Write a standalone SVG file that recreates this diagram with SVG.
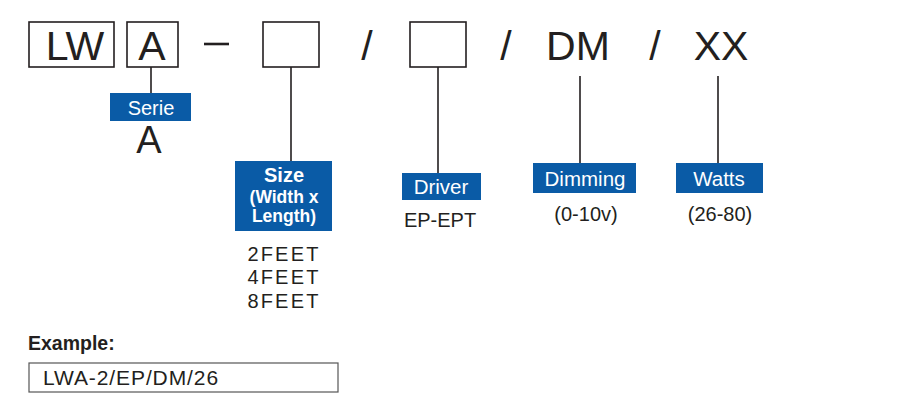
<svg xmlns="http://www.w3.org/2000/svg" width="917" height="415" viewBox="0 0 917 415">
<style>
.box{fill:#fff;stroke:#231f20;stroke-width:1.6}
.big{font-family:"Liberation Sans",Arial,sans-serif;font-size:41px;fill:#231f20}
.lbl{fill:#0a5ba6}
.wt{font-family:"Liberation Sans",Arial,sans-serif;font-size:20.5px;fill:#fff}
.wb{font-family:"Liberation Sans",Arial,sans-serif;font-weight:bold;fill:#fff}
.val{font-family:"Liberation Sans",Arial,sans-serif;font-size:20px;fill:#231f20}
.ln{stroke:#231f20;stroke-width:1.6;fill:none}
</style>
<rect width="917" height="415" fill="#fff"/>
<g id="code">
<rect class="box" x="29" y="22" width="85" height="45"/>
<text class="big" x="75" y="60" text-anchor="middle">LW</text>
<rect class="box" x="127" y="22" width="51" height="45"/>
<text class="big" x="152" y="60" text-anchor="middle">A</text>
<line x1="204" y1="44" x2="229" y2="44" stroke="#231f20" stroke-width="2.6"/>
<rect class="box" x="263" y="22" width="56" height="45"/>
<text class="big" x="367" y="60" text-anchor="middle">/</text>
<rect class="box" x="410" y="22" width="56" height="45"/>
<text class="big" x="506" y="60" text-anchor="middle">/</text>
<text class="big" x="578" y="60" text-anchor="middle">DM</text>
<text class="big" x="655" y="60" text-anchor="middle">/</text>
<text class="big" x="721" y="60" text-anchor="middle">XX</text>
</g>
<g id="connectors">
<line class="ln" x1="151" y1="67" x2="151" y2="93"/>
<line class="ln" x1="291" y1="67" x2="291" y2="161"/>
<line class="ln" x1="438" y1="67" x2="438" y2="173"/>
<line class="ln" x1="580" y1="76" x2="580" y2="163"/>
<line class="ln" x1="718" y1="76" x2="718" y2="163"/>
</g>
<g id="serie">
<rect class="lbl" x="110" y="93" width="81" height="28"/>
<text class="wt" x="151" y="115" text-anchor="middle" style="font-size:20px">Serie</text>
<text class="big" x="149" y="153" text-anchor="middle" style="font-size:38px">A</text>
</g>
<g id="size">
<rect class="lbl" x="235" y="161" width="97" height="70"/>
<text class="wb" x="284" y="182" text-anchor="middle" font-size="20">Size</text>
<text class="wb" x="284" y="203" text-anchor="middle" font-size="17.5">(Width x</text>
<text class="wb" x="284" y="222" text-anchor="middle" font-size="17.5">Length)</text>
<text class="val" x="284" y="261" text-anchor="middle" letter-spacing="2.2">2FEET</text>
<text class="val" x="284" y="284" text-anchor="middle" letter-spacing="2.2">4FEET</text>
<text class="val" x="284" y="308" text-anchor="middle" letter-spacing="2.2">8FEET</text>
</g>
<g id="driver">
<rect class="lbl" x="402" y="173" width="79" height="27"/>
<text class="wt" x="441" y="194" text-anchor="middle">Driver</text>
<text class="val" x="440" y="227" text-anchor="middle">EP-EPT</text>
</g>
<g id="dimming">
<rect class="lbl" x="533" y="163" width="103" height="30"/>
<text class="wt" x="585" y="186" text-anchor="middle">Dimming</text>
<text class="val" x="586" y="221" text-anchor="middle">(0-10v)</text>
</g>
<g id="watts">
<rect class="lbl" x="676" y="163" width="87" height="30"/>
<text class="wt" x="719" y="186" text-anchor="middle">Watts</text>
<text class="val" x="720" y="221" text-anchor="middle">(26-80)</text>
</g>
<g id="example">
<text x="28" y="350" font-family="'Liberation Sans',Arial,sans-serif" font-weight="bold" font-size="19.5" fill="#231f20">Example:</text>
<rect x="29" y="363" width="309" height="29" fill="#fff" stroke="#555" stroke-width="1.2"/>
<text x="43" y="385" font-family="'Liberation Sans',Arial,sans-serif" font-size="21" letter-spacing="0.9" fill="#231f20">LWA-2/EP/DM/26</text>
</g>
</svg>
